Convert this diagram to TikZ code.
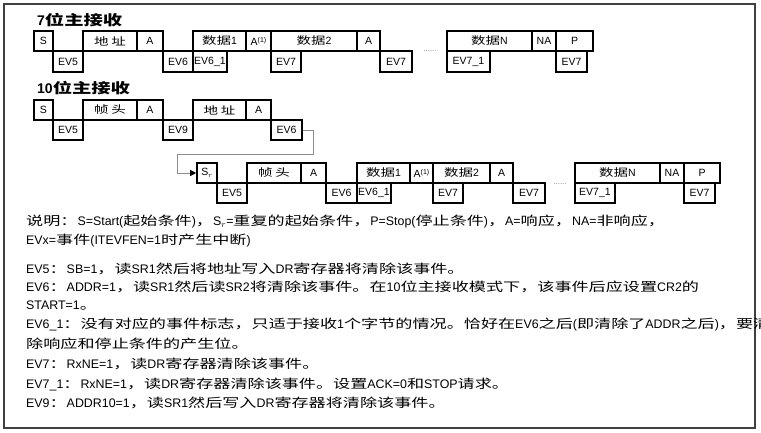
\documentclass[tikz,border=0pt]{standalone}
\usepackage{fontspec}
\setmainfont{Liberation Sans}
\newfontfamily\cjk[FakeStretch=1.38]{Noto Sans CJK SC}
\usetikzlibrary{arrows.meta}
\XeTeXinterchartokenstate=1
\newXeTeXintercharclass\CJKcls
\count255="4E00
\loop \XeTeXcharclass\count255=\CJKcls \ifnum\count255<"9FFF \advance\count255 by 1 \repeat
\count255="3000
\loop \XeTeXcharclass\count255=\CJKcls \ifnum\count255<"303F \advance\count255 by 1 \repeat
\count255="FF00
\loop \XeTeXcharclass\count255=\CJKcls \ifnum\count255<"FFEF \advance\count255 by 1 \repeat
\XeTeXinterchartoks 0 \CJKcls = {\begingroup\cjk}
\XeTeXinterchartoks 4095 \CJKcls = {\begingroup\cjk}
\XeTeXinterchartoks \CJKcls 0 = {\endgroup}
\XeTeXinterchartoks \CJKcls 4095 = {\endgroup}
\newcommand\bx[6]{\node[bx,minimum width={(#3-#2)*1pt},minimum height={(#5-#4)*1pt}] (#1) at ({(#2+#3)/2},{(#4+#5)/2}) {#6};}
\newcommand\aone{A{\fontsize{7}{7}\selectfont\raisebox{3pt}{(1)}}}
\tikzset{
 bx/.style={draw=black,line width=1.6pt,inner sep=0pt,font=\fontsize{10.5}{12}\selectfont},
 txt/.style={anchor=west,inner sep=0pt,font=\fontsize{12.4}{15}\selectfont},
 ttl/.style={anchor=west,inner sep=0pt,font=\bfseries\fontsize{14}{16}\selectfont},
 dots/.style={inner sep=0pt,text=gray,font=\fontsize{8}{9}\selectfont}
}
\begin{document}
\begin{tikzpicture}[x=1pt,y=-1pt]
\useasboundingbox (0,0) rectangle (761,433);
\draw[line width=1.4pt,draw=black!75] (4,4) rectangle (755,428);
\node[ttl] (t1) at (37,20) {7位主接收};
\node[ttl] (t2) at (37,88) {10位主接收};
% row 1
\bx{a1}{34}{53}{31}{51}{S}
\bx{a2}{83}{137}{31}{51}{地 址}
\bx{a3}{137}{163}{31}{51}{A}
\bx{a4}{193}{246}{31}{51}{数据1}
\bx{a5}{246}{271}{31}{51}{\aone}
\bx{a6}{271}{357}{31}{51}{数据2}
\bx{a7}{357}{380}{31}{51}{A}
\bx{a8}{447}{532}{31}{51}{数据N}
\bx{a9}{532}{556}{31}{51}{NA}
\bx{a10}{556}{593}{31}{51}{P}
\bx{b1}{53}{83}{51}{72}{EV5}
\bx{b2}{163}{193}{51}{72}{EV6}
\bx{b3}{193}{227}{51}{72}{EV6\_1}
\bx{b4}{271}{301}{51}{72}{EV7}
\bx{b5}{380}{412}{51}{72}{EV7}
\bx{b6}{447}{490}{51}{72}{EV7\_1}
\bx{b7}{556}{587}{51}{72}{EV7}
\node[dots] (d1) at (430,51) {......};
% row 2
\bx{c1}{34}{53}{100}{120}{S}
\bx{c2}{83}{137}{100}{120}{帧 头}
\bx{c3}{137}{163}{100}{120}{A}
\bx{c4}{193}{246}{100}{120}{地 址}
\bx{c5}{246}{271}{100}{120}{A}
\bx{e1}{53}{83}{120}{140}{EV5}
\bx{e2}{163}{193}{120}{140}{EV9}
\bx{e3}{271}{302}{120}{140}{EV6}
% row 3
\bx{f1}{197}{217}{163}{183}{S$_r$}
\bx{f2}{247}{301}{163}{183}{帧 头}
\bx{f3}{301}{326}{163}{183}{A}
\bx{f4}{357}{410}{163}{183}{数据1}
\bx{f5}{410}{433}{163}{183}{\aone}
\bx{f6}{433}{490}{163}{183}{数据2}
\bx{f7}{490}{513}{163}{183}{A}
\bx{f8}{575}{660}{163}{183}{数据N}
\bx{f9}{660}{684}{163}{183}{NA}
\bx{f10}{684}{720}{163}{183}{P}
\bx{g1}{217}{247}{183}{203}{EV5}
\bx{g2}{326}{357}{183}{203}{EV6}
\bx{g3}{357}{391}{183}{203}{EV6\_1}
\bx{g4}{433}{463}{183}{203}{EV7}
\bx{g5}{513}{545}{183}{203}{EV7}
\bx{g6}{575}{615}{183}{203}{EV7\_1}
\bx{g7}{684}{715}{183}{203}{EV7}
\node[dots] (d2) at (560,184) {......};
\draw[draw=black!45,line width=0.8pt,-{Triangle[length=6pt,width=6pt,fill=black,color=black]}] (e3.east) -| (313,154) -| (177,173) -- (f1.west);
% text
\node[txt] (l1) at (26,222) {说明：S=Start(起始条件)，S$_r$=重复的起始条件，P=Stop(停止条件)，A=响应，NA=非响应，};
\node[txt] (l2) at (26,241) {EVx=事件(ITEVFEN=1时产生中断)};
\node[txt] (l3) at (26,269) {EV5：SB=1，读SR1然后将地址写入DR寄存器将清除该事件。};
\node[txt] (l4) at (26,287) {EV6：ADDR=1，读SR1然后读SR2将清除该事件。在10位主接收模式下，该事件后应设置CR2的};
\node[txt] (l5) at (26,306) {START=1。};
\node[txt] (l6) at (26,325) {EV6\_1：没有对应的事件标志，只适于接收1个字节的情况。恰好在EV6之后(即清除了ADDR之后)，要清};
\node[txt] (l7) at (26,344) {除响应和停止条件的产生位。};
\node[txt] (l8) at (26,364) {EV7：RxNE=1，读DR寄存器清除该事件。};
\node[txt] (l9) at (26,384) {EV7\_1：RxNE=1，读DR寄存器清除该事件。设置ACK=0和STOP请求。};
\node[txt] (l10) at (26,403) {EV9：ADDR10=1，读SR1然后写入DR寄存器将清除该事件。};
\end{tikzpicture}
\end{document}
